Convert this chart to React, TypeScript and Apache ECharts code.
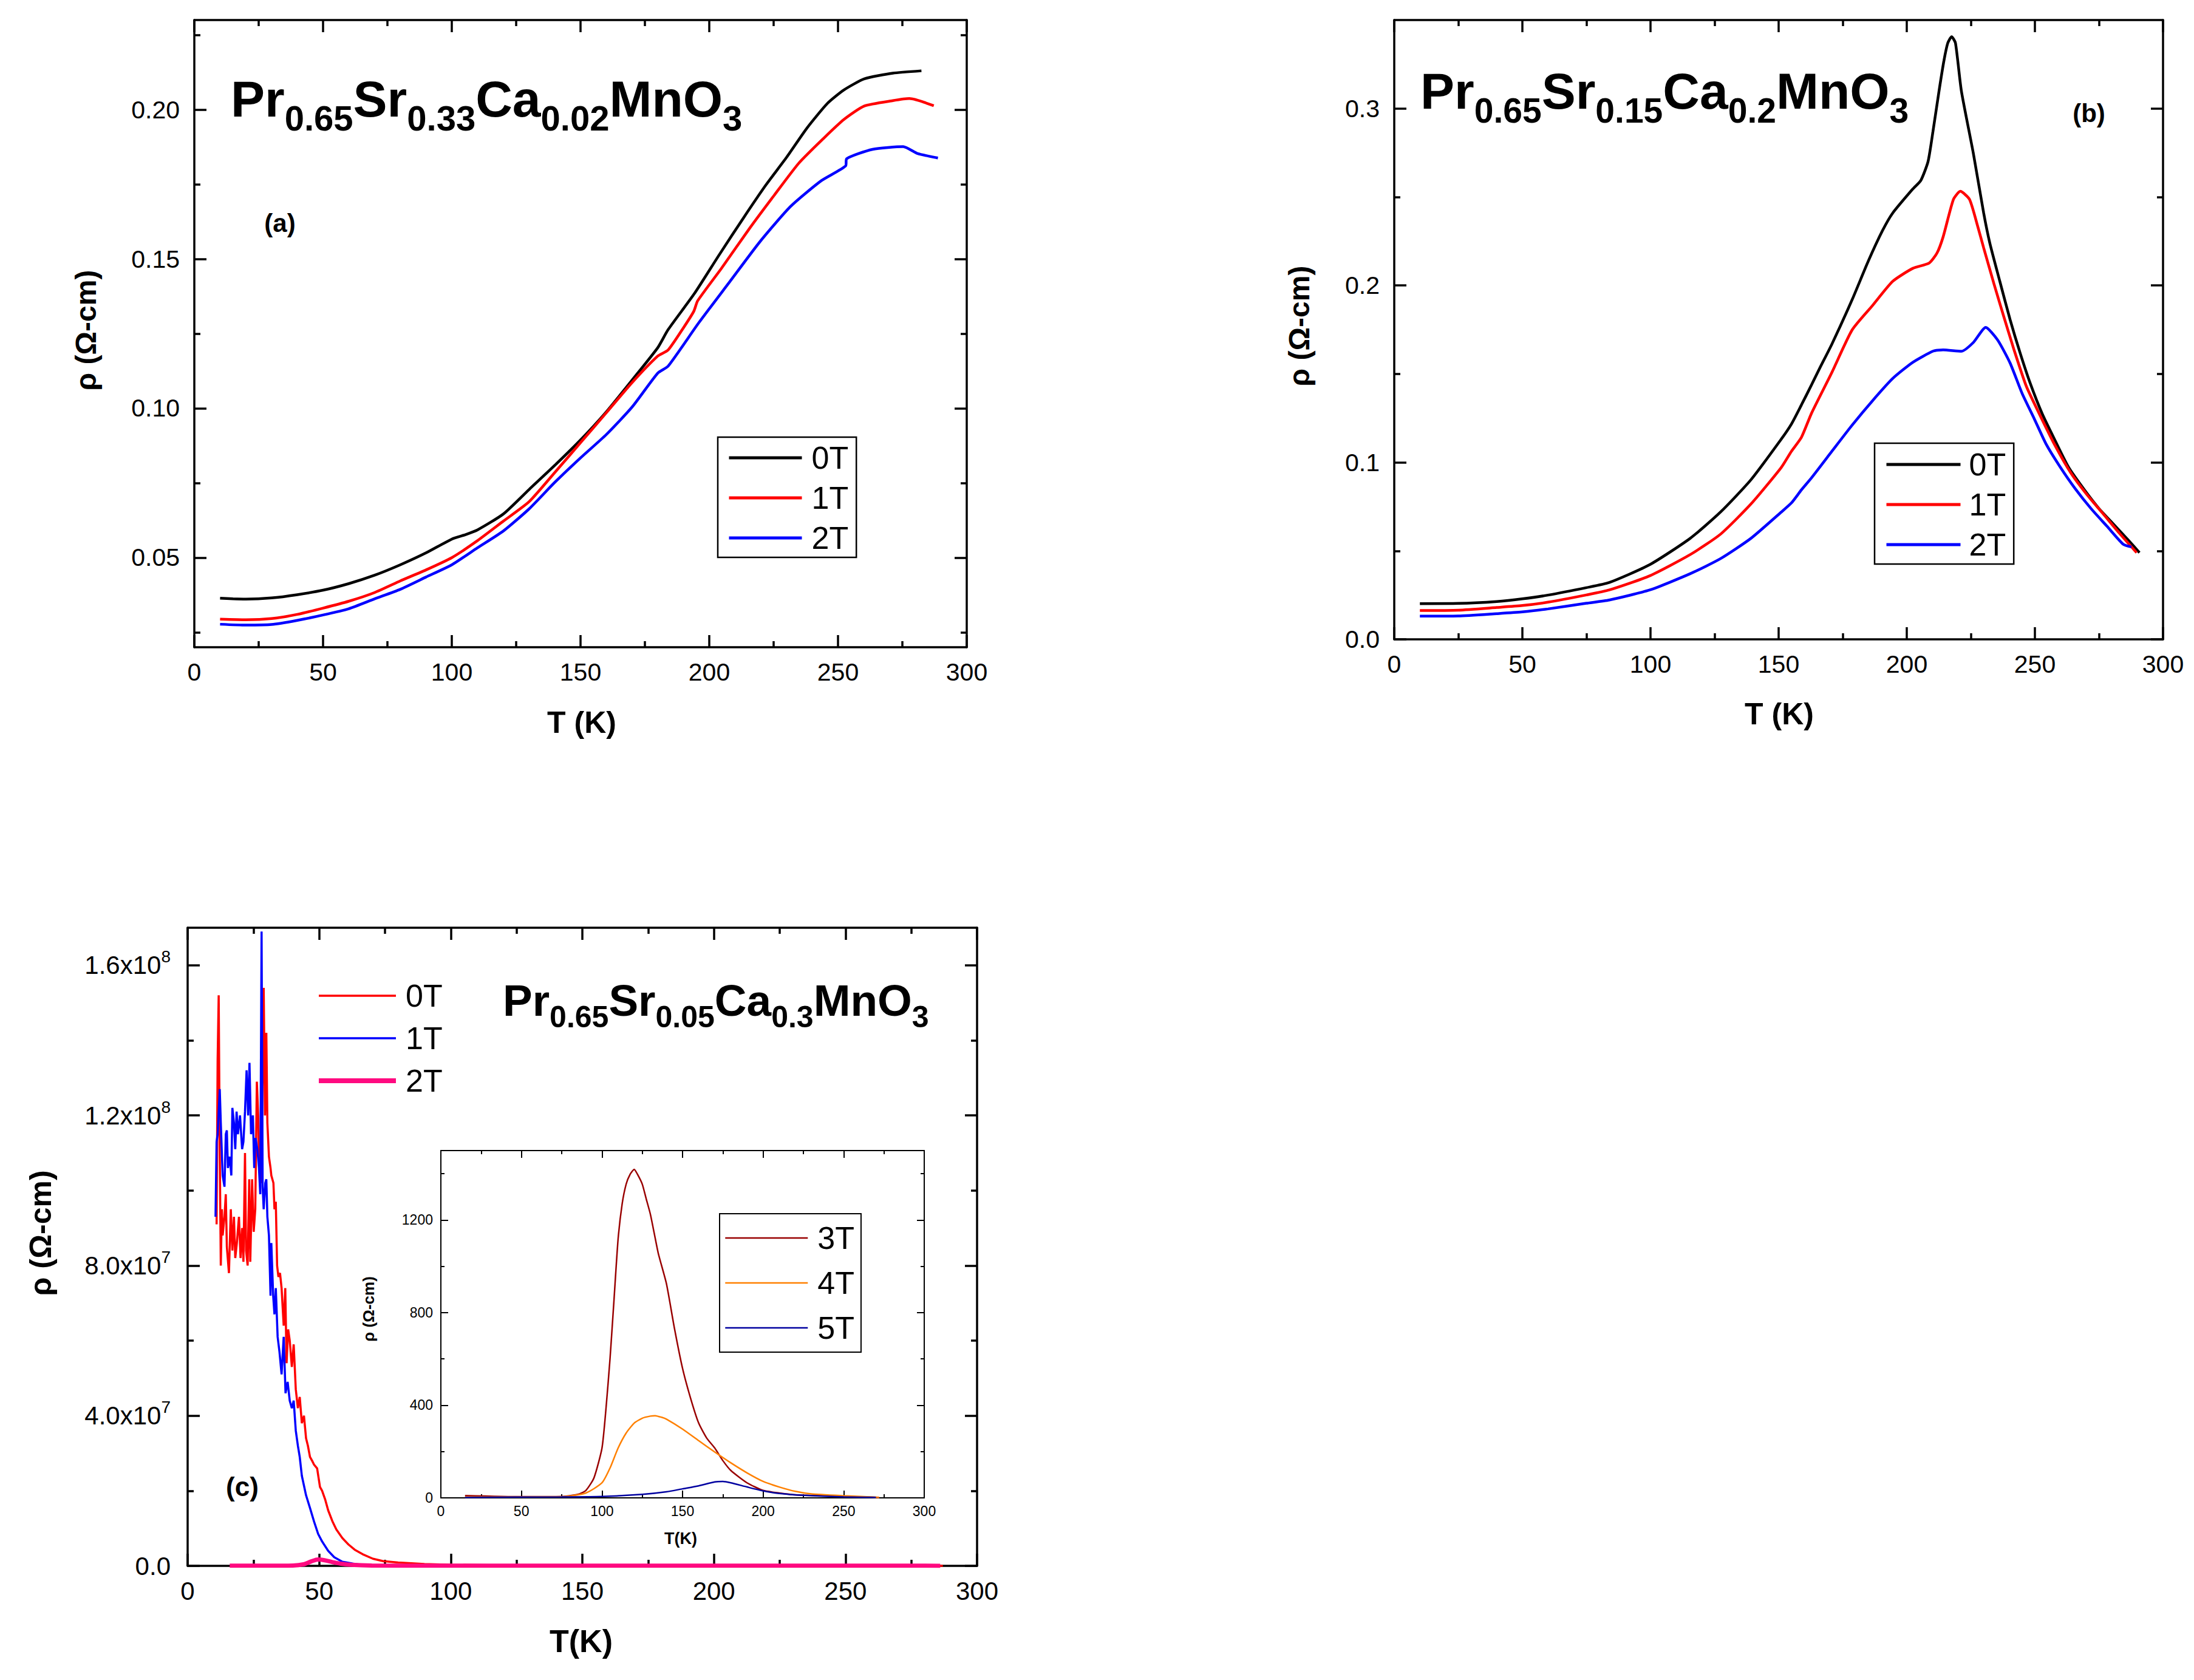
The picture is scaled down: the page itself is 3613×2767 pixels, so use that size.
import React, { useEffect, useRef } from "react";
import * as echarts from "echarts";

const FONT = "Liberation Sans, Arial, sans-serif";

// ---- panel (a): Pr0.65Sr0.33Ca0.02MnO3 ----
const aT0 = [10, 15, 20, 30, 40, 50, 60, 70, 80, 90, 100, 105, 110, 120, 130, 140, 150, 160, 170, 180, 184, 194.3, 203.8, 213.4, 222.1, 230, 238, 245.9, 252.3, 260.2, 271.3, 282.4];
const aRho0 = [0.0364, 0.0362, 0.0361, 0.0365, 0.0376, 0.0391, 0.0413, 0.0441, 0.0476, 0.0516, 0.0562, 0.0576, 0.0593, 0.0646, 0.0728, 0.0809, 0.0894, 0.0988, 0.1094, 0.1203, 0.1263, 0.1385, 0.1513, 0.1639, 0.1749, 0.184, 0.1939, 0.2021, 0.2066, 0.2103, 0.2122, 0.213];
const aT1 = [10, 20, 30, 40, 50, 60, 70, 80, 90, 100, 110, 120, 130, 140, 150, 160, 170, 180, 184, 190, 194, 195.5, 204.6, 215.7, 225.2, 234.8, 244.3, 252.3, 260.2, 271.3, 277.7, 287.2];
const aRho1 = [0.0294, 0.0292, 0.0296, 0.031, 0.0331, 0.0354, 0.0383, 0.0422, 0.0459, 0.05, 0.0557, 0.0622, 0.0687, 0.0785, 0.0885, 0.0985, 0.1086, 0.1175, 0.1195, 0.127, 0.1325, 0.136, 0.1467, 0.1603, 0.1713, 0.1821, 0.1903, 0.1967, 0.2012, 0.203, 0.2037, 0.2013];
const aT2 = [10, 20, 30, 40, 50, 60, 70, 80, 90, 100, 110, 120, 130, 140, 150, 160, 170, 180, 184, 195.9, 207.8, 219.7, 231.6, 243.5, 253, 253.3, 263.4, 275.3, 280.9, 288.8];
const aRho2 = [0.0277, 0.0274, 0.0276, 0.029, 0.0308, 0.0329, 0.0362, 0.0394, 0.0435, 0.0476, 0.0533, 0.0589, 0.0663, 0.0752, 0.0834, 0.0912, 0.1004, 0.1118, 0.1141, 0.1286, 0.1422, 0.1558, 0.1676, 0.1762, 0.1812, 0.1835, 0.1867, 0.1876, 0.1853, 0.1838];

// ---- panel (b): Pr0.65Sr0.15Ca0.2MnO3 ----
const bT0 = [10, 25, 40, 50, 60, 75, 83.9, 99.7, 115.5, 127.3, 139.2, 151, 155, 158.9, 162.9, 166.4, 170.8, 178.7, 185, 190.5, 194.5, 202.4, 205.5, 208.3, 210.2, 212.6, 214.5, 216, 217.5, 219, 221.3, 226, 230, 232.4, 236.3, 240.3, 244.2, 248.2, 252.9, 257.7, 263.2, 269.5, 275, 280.6, 286.1, 290.8];
const bRho0 = [0.0202, 0.0203, 0.0214, 0.0229, 0.025, 0.0292, 0.0321, 0.0422, 0.0571, 0.0719, 0.0902, 0.1131, 0.1217, 0.1325, 0.144, 0.1543, 0.1669, 0.192, 0.2138, 0.2309, 0.2409, 0.2546, 0.2594, 0.27, 0.2868, 0.31, 0.327, 0.337, 0.3406, 0.337, 0.31, 0.2745, 0.241, 0.224, 0.2024, 0.1808, 0.162, 0.1446, 0.1273, 0.1129, 0.0971, 0.0841, 0.0739, 0.0652, 0.0566, 0.049];
const bT1 = [10, 25, 40, 50, 60, 75, 83.9, 99.7, 115.5, 127.3, 139.2, 151, 155, 158.9, 162.9, 170.8, 178.7, 186.6, 194.5, 202.4, 208.7, 211.8, 214.2, 218.2, 220.9, 224.5, 227.7, 230, 234, 237.9, 241.9, 246.6, 251.3, 257.7, 264, 270.3, 276.6, 282.9, 289.7];
const bRho1 = [0.0163, 0.0165, 0.018, 0.0191, 0.021, 0.0251, 0.0279, 0.0359, 0.0479, 0.0594, 0.0765, 0.0971, 0.1063, 0.1142, 0.128, 0.1509, 0.1749, 0.1886, 0.2023, 0.2097, 0.2126, 0.2183, 0.2275, 0.2486, 0.2532, 0.2486, 0.2333, 0.2213, 0.201, 0.1822, 0.1634, 0.1432, 0.1287, 0.11, 0.0941, 0.0818, 0.071, 0.0601, 0.049];
const bT2 = [10, 25, 40, 50, 60, 75, 83.9, 99.7, 115.5, 127.3, 139.2, 151, 155, 158.9, 162.9, 170.8, 178.7, 186.6, 194.5, 202.4, 210.3, 214.2, 221.3, 226, 230.8, 235.5, 240.3, 245, 249.8, 254.5, 260, 265.6, 271.9, 278.2, 284.5, 287.7];
const bRho2 = [0.0131, 0.0132, 0.0145, 0.0155, 0.0172, 0.0204, 0.0222, 0.0279, 0.0371, 0.0456, 0.0571, 0.0719, 0.0771, 0.0845, 0.0914, 0.1063, 0.1211, 0.1348, 0.1474, 0.1566, 0.1629, 0.1636, 0.1628, 0.1678, 0.1763, 0.1691, 0.1562, 0.139, 0.1245, 0.11, 0.0971, 0.0854, 0.0739, 0.0638, 0.0537, 0.0522];

// ---- panel (c): Pr0.65Sr0.05Ca0.3MnO3 ----
const cT0 = [11.0, 11.4, 11.8, 12.2, 12.6, 13.0, 13.3, 14.0, 14.5, 14.9, 15.7, 16.4, 17.0, 17.6, 18.1, 18.7, 19.5, 20.1, 20.7, 21.2, 21.8, 22.2, 22.8, 23.4, 23.8, 24.5, 25.1, 25.7, 26.3, 26.8, 27.2, 28.0, 28.9, 29.4, 29.9, 30.3, 30.9, 31.5, 31.8, 32.6, 33.0, 33.5, 34.0, 34.5, 35.1, 35.7, 36.5, 37.1, 37.6, 38.2, 38.8, 39.6, 40.3, 41.1, 41.9, 42.6, 43.4, 44.2, 45.0, 45.7, 46.5, 47.3, 48.0, 49.2, 50.3, 51.1, 52.3, 53.4, 55.0, 56.5, 58.8, 61.1, 63.5, 66.5, 70.4, 74.3, 80, 90, 100, 120, 150, 200, 287];
const cRho0 = [91e6, 135e6, 152e6, 110e6, 80e6, 95e6, 88e6, 93e6, 99e6, 85e6, 78e6, 95e6, 84e6, 93e6, 82e6, 86e6, 93e6, 82e6, 90e6, 81e6, 110e6, 84e6, 80e6, 103e6, 81e6, 103e6, 89e6, 95e6, 129e6, 120e6, 106e6, 102e6, 154e6, 120e6, 142e6, 118e6, 109e6, 106e6, 104e6, 102e6, 95e6, 97e6, 80e6, 77e6, 78e6, 74e6, 64e6, 74e6, 54e6, 63e6, 60e6, 53e6, 59e6, 47e6, 42e6, 45e6, 38e6, 40e6, 34e6, 32e6, 29e6, 28e6, 27e6, 26e6, 21e6, 20e6, 17.6e6, 14.8e6, 11.9e6, 9.7e6, 7.4e6, 5.7e6, 4.3e6, 3.1e6, 1.9e6, 1.25e6, 0.9e6, 0.5e6, 0.3e6, 0.15e6, 0.1e6, 0.05e6, 0];
const cT1 = [10.6, 11.0, 11.4, 12.2, 12.6, 13.3, 14.0, 14.5, 14.9, 15.3, 16.0, 16.6, 17.0, 17.6, 18.1, 18.6, 19.1, 19.9, 20.7, 21.2, 21.8, 22.4, 23.0, 23.5, 24.1, 24.8, 25.3, 25.8, 26.5, 27.1, 27.6, 28.1, 28.5, 28.9, 29.5, 29.9, 30.3, 30.9, 31.5, 31.8, 32.5, 33.0, 33.5, 34.2, 34.9, 35.7, 36.5, 37.2, 38.0, 38.8, 39.6, 40.3, 41.1, 41.9, 42.6, 43.4, 45.0, 46.5, 48.0, 49.6, 51.1, 53.4, 55.7, 58.8, 62.7, 66.5, 80, 120];
const cRho1 = [93e6, 113e6, 115e6, 127e6, 118e6, 104e6, 101e6, 115e6, 116e6, 106e6, 109e6, 104e6, 122e6, 118e6, 111e6, 121e6, 115e6, 120e6, 111e6, 113e6, 121e6, 132e6, 120e6, 134e6, 115e6, 120e6, 106e6, 114e6, 111e6, 106e6, 99e6, 169e6, 101e6, 95e6, 102e6, 103e6, 93e6, 88e6, 72e6, 86e6, 72e6, 67e6, 74e6, 61e6, 57e6, 51e6, 61e6, 46e6, 49e6, 44e6, 42e6, 44e6, 36e6, 32e6, 29e6, 24e6, 18.8e6, 15.4e6, 11.9e6, 8.5e6, 6.5e6, 4.0e6, 2.3e6, 1.1e6, 0.6e6, 0.2e6, 0.05e6, 0];
const cT2 = [16, 30, 40, 44, 47, 49.6, 52, 55, 58, 62, 70, 100, 150, 200, 250, 286];
const cRho2 = [0.05e6, 0.05e6, 0.1e6, 0.4e6, 1.2e6, 1.7e6, 1.5e6, 1.0e6, 0.6e6, 0.3e6, 0.1e6, 0.05e6, 0.05e6, 0.03e6, 0.03e6, 0.02e6];

// ---- inset of (c) ----
const iT3 = [15, 50, 75, 85, 90, 95, 100, 102.5, 105, 107.5, 110, 112.5, 115, 117.5, 120, 122, 125, 127.5, 130, 132.5, 135, 140, 145, 150, 155, 160, 165, 170, 175, 180, 190, 200, 210, 220, 250, 272];
const iRho3 = [10, 5, 6, 15, 32, 86, 215, 387, 602, 860, 1118, 1269, 1355, 1398, 1419, 1398, 1355, 1290, 1226, 1140, 1054, 925, 731, 559, 430, 323, 258, 215, 161, 118, 65, 32, 21, 13, 6, 2];
const iT4 = [15, 75, 90, 100, 105, 110, 115, 120, 125, 130, 133, 137, 140, 150, 160, 170, 180, 190, 200, 210, 220, 230, 250, 272];
const iRho4 = [4, 5, 21, 65, 129, 215, 280, 323, 344, 353, 355, 348, 340, 297, 247, 198, 151, 108, 71, 47, 28, 17, 9, 2];
const iT5 = [15, 75, 100, 125, 140, 150, 160, 170, 175, 180, 190, 200, 210, 225, 250, 270];
const iRho5 = [2, 4, 6, 15, 26, 39, 52, 69, 71, 65, 47, 30, 19, 11, 4, 2];

// ---- tick values ----
const xMajors = [0, 50, 100, 150, 200, 250, 300];
const xMinors = [25, 75, 125, 175, 225, 275];
const aYMajors = [0.05, 0.1, 0.15, 0.2];
const aYMinors = [0.025, 0.075, 0.125, 0.175, 0.225];
const bYMajors = [0, 0.1, 0.2, 0.3];
const bYMinors = [0.05, 0.15, 0.25];
const cYMajors = [0, 4e7, 8e7, 1.2e8, 1.6e8];
const cYMinors = [2e7, 6e7, 1e8, 1.4e8];
const iYMajors = [0, 400, 800, 1200];
const iYMinors = [200, 600, 1000, 1400];

const zip = (xs: number[], ys: number[]) => xs.map((x, i) => [x, ys[i]]);

// one labelled axis + mirrored frame side, majors and minors as separate tick sets
const frameAxes = (
  gridIndex: number,
  dim: "x" | "y",
  min: number,
  max: number,
  majors: number[],
  minors: number[],
  label: any,
  major: number,
  minor: number,
  lw: number
) => {
  const low = dim === "x" ? "bottom" : "left";
  const high = dim === "x" ? "top" : "right";
  const tick = (vals: number[], len: number) => ({
    show: true,
    inside: true,
    length: len,
    customValues: vals,
    lineStyle: { color: "#000", width: lw },
  });
  const line = (show: boolean) => ({ show, onZero: false, lineStyle: { color: "#000", width: lw } });
  const common = { type: "value", gridIndex, min, max, splitLine: { show: false }, minorTick: { show: false }, silent: true };
  return [
    { ...common, position: low, axisLine: line(true), axisTick: tick(majors, major), axisLabel: { ...label, customValues: majors } },
    { ...common, position: low, axisLine: line(false), axisTick: tick(minors, minor), axisLabel: { show: false } },
    { ...common, position: high, axisLine: line(true), axisTick: tick(majors, major), axisLabel: { show: false } },
    { ...common, position: high, axisLine: line(false), axisTick: tick(minors, minor), axisLabel: { show: false } },
  ];
};

const tickLabel = (size: number, margin: number) => ({
  show: true,
  fontSize: size,
  fontFamily: FONT,
  color: "#000",
  margin,
});

const cYLabel = (v: number) => {
  if (v === 0) return "{n|0.0}";
  const e = Math.floor(Math.log10(v) + 1e-9);
  return `{n|${(v / Math.pow(10, e)).toFixed(1)}x10}{e|${e}}`;
};

const formula = (parts: [string, string][], m: number, s: number, lh: number) => ({
  text: parts.map(([a, b]) => `{m|${a}}` + (b ? `{s|${b}}` : "")).join(""),
  rich: {
    m: { fontSize: m, fontWeight: "bold", fontFamily: FONT, lineHeight: lh, verticalAlign: "top", fill: "#000" },
    s: { fontSize: s, fontWeight: "bold", fontFamily: FONT, verticalAlign: "bottom", fill: "#000" },
  },
  textAlign: "left",
  textVerticalAlign: "top",
});

const boldText = (text: string, x: number, y: number, size: number, rotate = false) => ({
  type: "text",
  x,
  y,
  rotation: rotate ? Math.PI / 2 : 0,
  style: {
    text,
    fontSize: size,
    fontWeight: "bold",
    fontFamily: FONT,
    fill: "#000",
    textAlign: "center",
    textVerticalAlign: "middle",
  },
});

const legendItems = (names: string[], widths: number[]) =>
  names.map((name, i) => ({ name, lineStyle: { width: widths[i] }, itemStyle: { opacity: 0 } }));

const legendBase = (data: any[], left: number, top: number, itemWidth: number, itemGap: number, padding: number[], border: number, textPad: number) => ({
  data,
  left,
  top,
  orient: "vertical",
  itemWidth,
  itemHeight: 14,
  itemGap,
  padding,
  borderColor: "#000",
  borderWidth: border,
  selectedMode: false,
  formatter: (n: string) => n.slice(1),
  textStyle: { fontSize: 52, lineHeight: 58, fontFamily: FONT, color: "#000", padding: [0, 0, 0, textPad] },
});

const lineSeries = (name: string, axis: number, data: number[][], color: string, width: number, smooth: number | boolean) => ({
  type: "line",
  name,
  xAxisIndex: axis,
  yAxisIndex: axis,
  data,
  symbol: "none",
  showSymbol: false,
  smooth,
  silent: true,
  lineStyle: { color, width },
  itemStyle: { color },
});

const App = () => {
  const ref = useRef<HTMLDivElement>(null);

  useEffect(() => {
    if (!ref.current) return;
    const chart = echarts.init(ref.current, undefined, { renderer: "svg" });

    const xLab = tickLabel(41, 20);
    const yLab = tickLabel(41, 24);
    const inLab = tickLabel(23, 10);

    const option: any = {
      animation: false,
      backgroundColor: "#fff",
      grid: [
        { left: 320, top: 33, width: 1272, height: 1033, outerBoundsMode: "none" },
        { left: 2296, top: 33, width: 1266, height: 1020, outerBoundsMode: "none" },
        { left: 309, top: 1528, width: 1300, height: 1051, outerBoundsMode: "none" },
        { left: 726, top: 1895, width: 796, height: 572, outerBoundsMode: "none" },
      ],
      xAxis: [
        ...frameAxes(0, "x", 0, 300, xMajors, xMinors, xLab, 20, 10, 3.5),
        ...frameAxes(1, "x", 0, 300, xMajors, xMinors, xLab, 20, 10, 3.5),
        ...frameAxes(2, "x", 0, 300, xMajors, xMinors, { ...xLab, fontSize: 42 }, 20, 10, 3.5),
        ...frameAxes(3, "x", 0, 300, xMajors, xMinors, inLab, 12, 6, 2),
      ],
      yAxis: [
        ...frameAxes(0, "y", 0.02, 0.23, aYMajors, aYMinors, { ...yLab, formatter: (v: number) => v.toFixed(2) }, 20, 10, 3.5),
        ...frameAxes(1, "y", 0, 0.35, bYMajors, bYMinors, { ...yLab, formatter: (v: number) => v.toFixed(1) }, 20, 10, 3.5),
        ...frameAxes(
          2,
          "y",
          0,
          1.7e8,
          cYMajors,
          cYMinors,
          {
            ...yLab,
            margin: 28,
            formatter: cYLabel,
            rich: {
              n: { fontSize: 42, lineHeight: 56, fontFamily: FONT, color: "#000" },
              e: { fontSize: 28, fontFamily: FONT, color: "#000", verticalAlign: "top" },
            },
          },
          20,
          10,
          3.5
        ),
        ...frameAxes(3, "y", 0, 1500, iYMajors, iYMinors, { ...inLab, margin: 13, formatter: (v: number) => String(v) }, 12, 6, 2),
      ],
      legend: [
        legendBase(legendItems(["a0T", "a1T", "a2T"], [5, 5, 5]), 1182, 720, 120, 8, [5, 13, 3, 16], 2.5, 11),
        legendBase(legendItems(["b0T", "b1T", "b2T"], [5, 5, 5]), 3087, 730, 122, 8, [6, 13, 3, 17], 2.5, 9),
        legendBase(legendItems(["c0T", "c1T", "c2T"], [3.5, 3.5, 8]), 521, 1611, 127, 12, [0, 0, 0, 0], 0, 11),
        legendBase(legendItems(["i3T", "i4T", "i5T"], [2.5, 2.5, 2.5]), 1185, 1999, 136, 16, [11, 11, 11, 8], 2, 11),
      ],
      series: [
        lineSeries("a0T", 0, zip(aT0, aRho0), "#000000", 4.5, 0.2),
        lineSeries("a1T", 0, zip(aT1, aRho1), "#ff0000", 4.5, 0.2),
        lineSeries("a2T", 0, zip(aT2, aRho2), "#0000ff", 4.5, 0.2),
        lineSeries("b0T", 4, zip(bT0, bRho0), "#000000", 4.5, 0.2),
        lineSeries("b1T", 4, zip(bT1, bRho1), "#ff0000", 4.5, 0.2),
        lineSeries("b2T", 4, zip(bT2, bRho2), "#0000ff", 4.5, 0.2),
        lineSeries("c0T", 8, zip(cT0, cRho0), "#ff0000", 3.5, false),
        lineSeries("c1T", 8, zip(cT1, cRho1), "#0000ff", 3.5, false),
        lineSeries("c2T", 8, zip(cT2, cRho2), "#ff0a80", 7, 0.3),
        lineSeries("i3T", 12, zip(iT3, iRho3), "#990000", 2.5, 0.2),
        lineSeries("i4T", 12, zip(iT4, iRho4), "#ff8000", 2.5, 0.2),
        lineSeries("i5T", 12, zip(iT5, iRho5), "#0000a0", 2.5, 0.2),
      ],
      graphic: [
        {
          type: "text",
          x: 380,
          y: 121,
          style: formula([["Pr", "0.65"], ["Sr", "0.33"], ["Ca", "0.02"], ["MnO", "3"]], 84, 58, 102),
        },
        {
          type: "text",
          x: 2339,
          y: 108,
          style: formula([["Pr", "0.65"], ["Sr", "0.15"], ["Ca", "0.2"], ["MnO", "3"]], 84, 57, 102),
        },
        {
          type: "text",
          x: 828,
          y: 1611,
          style: formula([["Pr", "0.65"], ["Sr", "0.05"], ["Ca", "0.3"], ["MnO", "3"]], 73, 50, 89),
        },
        boldText("(a)", 461, 367, 42),
        boldText("(b)", 3440, 186, 42),
        boldText("(c)", 399, 2448, 44),
        boldText("T (K)", 958, 1190, 50),
        boldText("T (K)", 2930, 1176, 50),
        boldText("T(K)", 957, 2703, 52),
        boldText("ρ (Ω-cm)", 141, 544, 48, true),
        boldText("ρ (Ω-cm)", 2139, 537, 48, true),
        boldText("ρ (Ω-cm)", 67, 2031, 50, true),
        boldText("T(K)", 1121, 2534, 27),
        boldText("ρ (Ω-cm)", 607, 2156, 26, true),
      ],
    };

    chart.setOption(option);
    return () => chart.dispose();
  }, []);

  return (
    <div
      ref={ref}
      style={{ position: "absolute", left: 0, top: 0, width: 3613, height: 2767, background: "#fff" }}
    />
  );
};

export default App;
